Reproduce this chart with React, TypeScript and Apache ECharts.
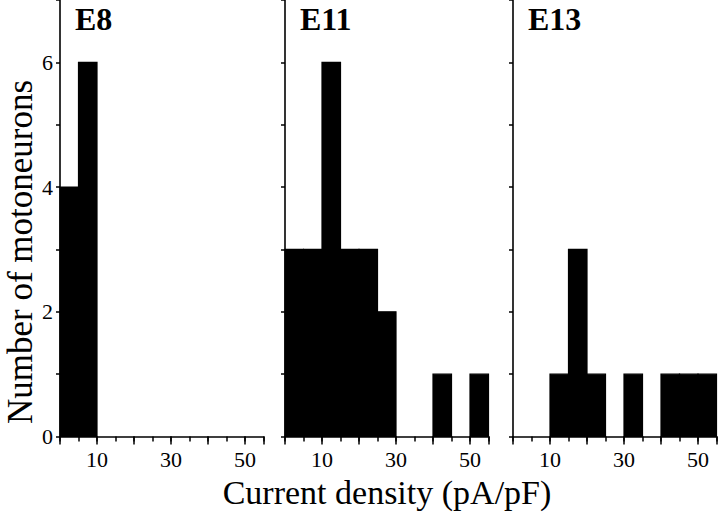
import React, { useEffect, useRef } from "react";
import * as echarts from "echarts";

// Histogram bin edges (pA/pF), 5-unit bins from 0 to 55
const binEdges = [0, 5, 10, 15, 20, 25, 30, 35, 40, 45, 50, 55];
// Counts per bin for each embryonic stage
const countsE8 = [4, 6, 0, 0, 0, 0, 0, 0, 0, 0, 0];
const countsE11 = [3, 3, 6, 3, 3, 2, 0, 0, 1, 0, 1];
const countsE13 = [0, 0, 1, 3, 1, 0, 1, 0, 1, 1, 1];
const panelTitles = ["E8", "E11", "E13"];
const xTickLabels = [10, 30, 50];
const yTickLabels = [0, 2, 4, 6];
const xAxisTitle = "Current density (pA/pF)";
const yAxisTitle = "Number of motoneurons";

const FONT = "'Liberation Serif', 'Times New Roman', 'DejaVu Serif', serif";

export default function App() {
  const ref = useRef<HTMLDivElement>(null);
  useEffect(() => {
    if (!ref.current) return;
    const chart = echarts.init(ref.current, undefined, { renderer: "svg" });
    const panels = [countsE8, countsE11, countsE13];
    const lefts = [60, 285, 513];
    const gridW = 203.5;
    const grids: any[] = [];
    const xAxes: any[] = [];
    const yAxes: any[] = [];
    const series: any[] = [];
    const graphics: any[] = [];

    panels.forEach((counts, i) => {
      grids.push({ left: lefts[i], width: gridW, top: -2.4, bottom: 75.5 });
      // minor (5-unit) ticks axis, carries the data
      xAxes.push({
        type: "value",
        gridIndex: i,
        position: "bottom",
        min: 0,
        max: 55,
        interval: 5,
        axisLine: { show: true, onZero: false, lineStyle: { color: "#000", width: 1.6 } },
        axisTick: { show: true, length: 5, lineStyle: { color: "#000", width: 1.5 } },
        axisLabel: { show: false },
        splitLine: { show: false },
      });
      // major (10-unit) ticks axis with labels
      xAxes.push({
        type: "value",
        gridIndex: i,
        position: "bottom",
        min: 0,
        max: 55,
        interval: 10,
        axisLine: { show: false, onZero: false },
        axisTick: { show: true, length: 8, lineStyle: { color: "#000", width: 1.5 } },
        axisLabel: {
          show: true,
          margin: 12,
          fontFamily: FONT,
          fontSize: 22,
          color: "#000",
          formatter: (v: number) => (xTickLabels.includes(v) ? String(v) : ""),
        },
        splitLine: { show: false },
      });
      yAxes.push({
        type: "value",
        gridIndex: i,
        min: 0,
        max: 7,
        interval: 1,
        axisLine: { show: true, lineStyle: { color: "#000", width: 1.6 } },
        axisTick: { show: true, length: 4, lineStyle: { color: "#000", width: 1.5 } },
        axisLabel: {
          show: i === 0,
          margin: 7,
          fontFamily: FONT,
          fontSize: 22,
          color: "#000",
          formatter: (v: number) => (yTickLabels.includes(v) ? String(v) : ""),
        },
        splitLine: { show: false },
      });
      const data = counts.map((c, k) => [binEdges[k], binEdges[k + 1], c]);
      series.push({
        type: "custom",
        xAxisIndex: i * 2,
        yAxisIndex: i,
        encode: { x: [0, 1], y: 2 },
        data,
        renderItem: (params: any, api: any) => {
          const c = api.value(2);
          if (!c) return null;
          const p0 = api.coord([api.value(0), c]);
          const p1 = api.coord([api.value(1), 0]);
          return {
            type: "rect",
            shape: { x: p0[0], y: p0[1], width: p1[0] - p0[0], height: p1[1] - p0[1] },
            style: { fill: "#000", stroke: "#000", lineWidth: 1.2 },
          };
        },
      });
      graphics.push({
        type: "text",
        left: lefts[i] + 15,
        top: 3,
        style: {
          text: panelTitles[i],
          font: `bold 32px ${FONT}`,
          fill: "#000",
        },
      });
    });

    graphics.push({
      type: "text",
      x: 387,
      y: 492,
      style: {
        text: xAxisTitle,
        font: `34px ${FONT}`,
        fill: "#000",
        align: "center",
        verticalAlign: "middle",
      },
    });
    graphics.push({
      type: "text",
      x: 20,
      y: 252,
      rotation: Math.PI / 2,
      style: {
        text: yAxisTitle,
        font: `35px ${FONT}`,
        fill: "#000",
        align: "center",
        verticalAlign: "middle",
      },
    });

    chart.setOption({
      animation: false,
      backgroundColor: "#fff",
      grid: grids,
      xAxis: xAxes,
      yAxis: yAxes,
      series,
      graphic: graphics,
    });
    return () => chart.dispose();
  }, []);
  return (
    <div
      ref={ref}
      style={{ position: "fixed", left: 0, top: 0, width: 720, height: 512 }}
    />
  );
}
